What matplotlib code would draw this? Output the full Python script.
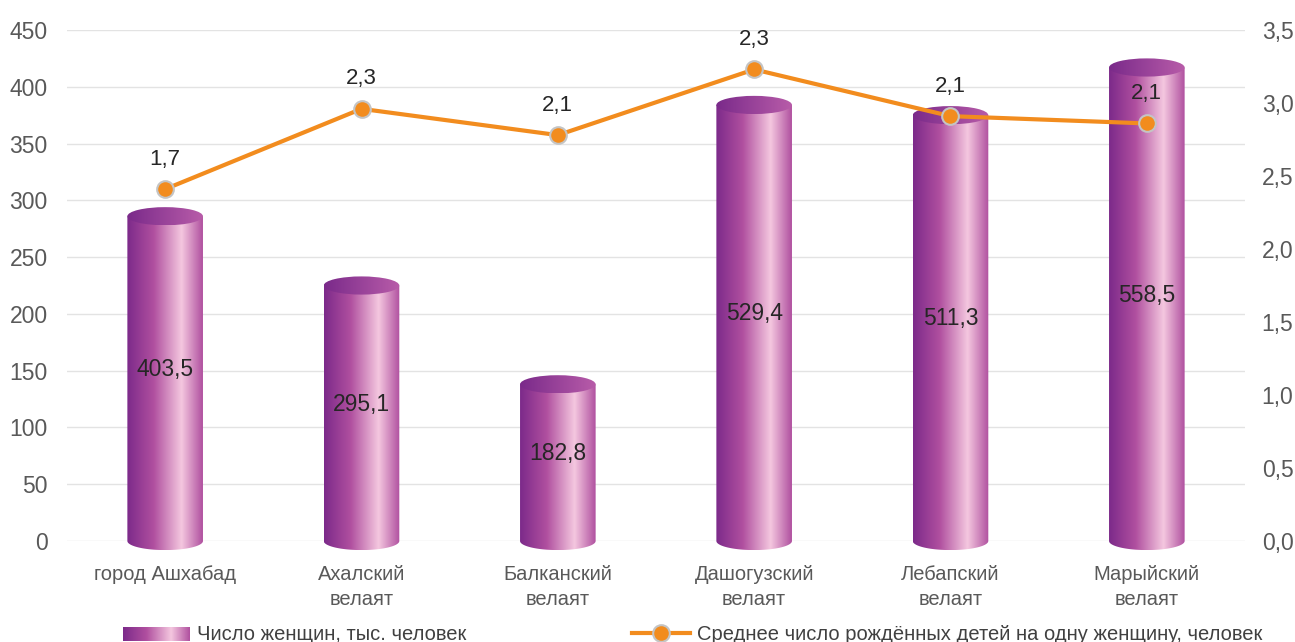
import numpy as np
import matplotlib
matplotlib.use('Agg')
import matplotlib.pyplot as plt
from matplotlib.colors import LinearSegmentedColormap
from matplotlib.patches import Ellipse, PathPatch
from matplotlib.path import Path
from matplotlib.lines import Line2D

plt.rcParams['font.family'] = ['Liberation Sans', 'DejaVu Sans']

regions = ['город Ашхабад', 'Ахалский\nвелаят', 'Балканский\nвелаят',
           'Дашогузский\nвелаят', 'Лебапский\nвелаят', 'Марыйский\nвелаят']
# cylinder heights as drawn on the left axis
women_height = [286, 225, 138, 384, 375, 417]
# printed values (thousand women)
women_labels = ['403,5', '295,1', '182,8', '529,4', '511,3', '558,5']
# average number of children per woman (right axis)
children = [2.41, 2.96, 2.78, 3.23, 2.91, 2.86]
children_labels = ['1,7', '2,3', '2,1', '2,3', '2,1', '2,1']

body_cmap = LinearSegmentedColormap.from_list('body', [
    (0.0, '#7c2a8a'), (0.35, '#b04f9f'), (0.72, '#f4c7df'), (1.0, '#b0509f')])
top_cmap = LinearSegmentedColormap.from_list('top', [
    (0.0, '#7a2a8a'), (1.0, '#b85ca9')])
grad = np.linspace(0, 1, 256).reshape(1, -1)

fig = plt.figure(figsize=(12.95, 6.42), dpi=100)
ax = fig.add_axes([67/1295, 1 - 541/642, (1245 - 67)/1295, (541 - 30)/642])

w = 0.385   # cylinder width in category units
e = 8.0     # ellipse half-height in data units

for i, h in enumerate(women_height):
    x0, x1 = i - w/2, i + w/2
    # body: rectangle plus lower half ellipse
    t = np.linspace(np.pi, 2*np.pi, 60)
    arc = np.column_stack([i + w/2*np.cos(t), e*np.sin(t)])
    verts = np.vstack([[[x0, h]], arc, [[x1, h]], [[x0, h]]])
    body = PathPatch(Path(verts, closed=True), transform=ax.transData)
    im = ax.imshow(grad, cmap=body_cmap, extent=[x0, x1, -e, h], aspect='auto',
                   interpolation='bilinear', zorder=2)
    im.set_clip_path(body)
    im.set_clip_box(fig.bbox)
    # top ellipse
    top = Ellipse((i, h), w, 2*e, transform=ax.transData)
    im2 = ax.imshow(grad, cmap=top_cmap, extent=[x0, x1, h - e, h + e], aspect='auto',
                    interpolation='bilinear', zorder=3)
    im2.set_clip_path(top)
    im2.set_clip_box(fig.bbox)
    ax.text(i, h/2 + 8, women_labels[i], ha='center', va='center',
            fontsize=16.5, color='#262626', zorder=4)

ax.set_xlim(-0.5, len(regions) - 0.5)
ax.set_ylim(0, 450)
ax.set_yticks(np.arange(0, 451, 50))
ax.set_xticks(range(len(regions)))
ax.set_xticklabels(regions, fontsize=14.5, color='#595959', linespacing=1.45)
ax.tick_params(axis='x', length=0, pad=17)
ax.tick_params(axis='y', length=0, pad=14, labelsize=16.5, labelcolor='#595959')
ax.grid(axis='y', color='#e3e3e3', linewidth=1)
ax.set_axisbelow(True)
for s in ax.spines.values():
    s.set_visible(False)

ax2 = ax.twinx()
ax2.plot(range(len(children)), children, color='#f28c1e', linewidth=3,
         marker='o', markersize=12, markerfacecolor='#f28c1e',
         markeredgecolor='#c4c4c4', markeredgewidth=1.5, zorder=5)
for i, v in enumerate(children):
    ax2.annotate(children_labels[i], (i, v), xytext=(0, 14), textcoords='offset points',
                 ha='center', va='bottom', fontsize=16, color='#262626')
ax2.set_ylim(0, 3.5)
ax2.set_yticks(np.arange(0, 3.51, 0.5))
ax2.set_yticklabels([f'{v:.1f}'.replace('.', ',') for v in np.arange(0, 3.51, 0.5)])
ax2.tick_params(axis='y', length=0, pad=12, labelsize=16.5, labelcolor='#595959')
for s in ax2.spines.values():
    s.set_visible(False)

# legend along the bottom edge
lax = fig.add_axes([123/1295, 1/642, 66/1295, 14/642])
lax.imshow(grad, cmap=body_cmap, aspect='auto', interpolation='bilinear')
lax.axis('off')
fig.text(197/1295, 1 - 634/642, 'Число женщин, тыс. человек', fontsize=14.5,
         color='#404040', va='center', ha='left')
fig.add_artist(Line2D([632/1295, 690/1295], [1 - 633/642, 1 - 633/642],
                      transform=fig.transFigure, color='#f28c1e', linewidth=3))
fig.add_artist(Line2D([661/1295], [1 - 633/642], transform=fig.transFigure,
                      marker='o', markersize=12, markerfacecolor='#f28c1e',
                      markeredgecolor='#c4c4c4', markeredgewidth=1.5))
fig.text(697/1295, 1 - 634/642, 'Среднее число рождённых детей на одну женщину, человек',
         fontsize=14.5, color='#404040', va='center', ha='left')

fig.savefig('out.png', dpi=100)
